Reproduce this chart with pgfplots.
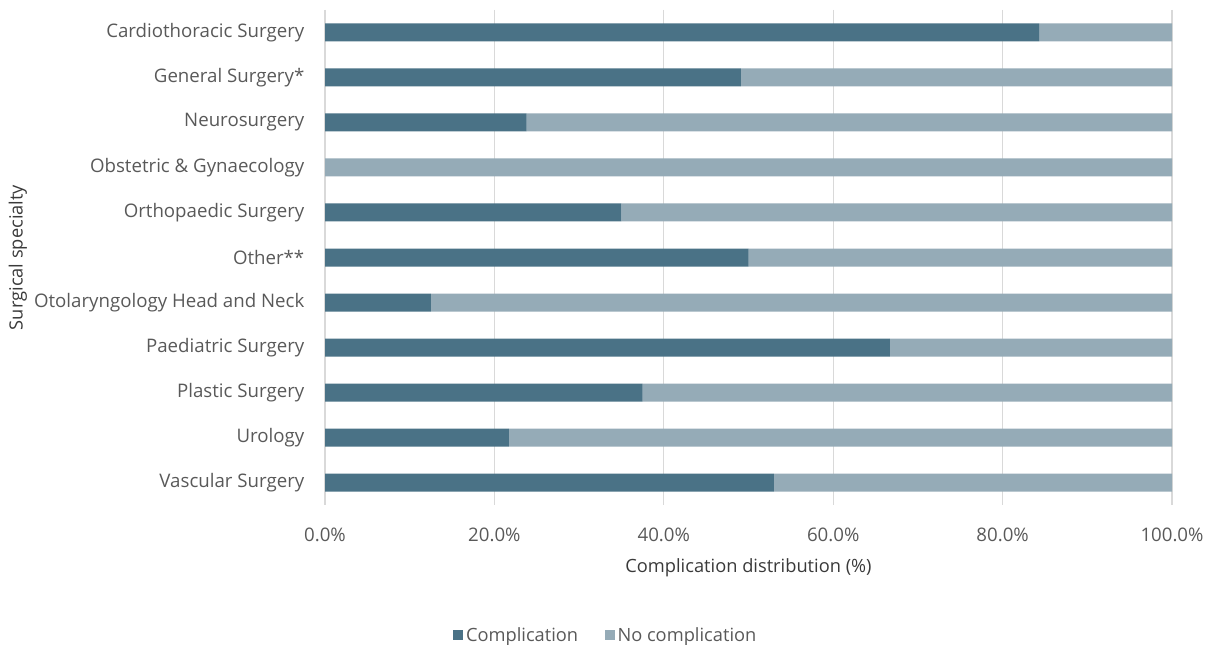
\documentclass[border=0pt]{standalone}
\usepackage{pgfplots}
\pgfplotsset{compat=1.18}
\usepackage{fontspec}
\setmainfont{Open Sans}
\definecolor{comp}{HTML}{4A7286}
\definecolor{nocomp}{HTML}{95ABB7}
\definecolor{txt}{HTML}{595959}
\definecolor{ttl}{HTML}{3A3A3A}
\definecolor{gridc}{HTML}{D9D9D9}
\begin{document}
\begin{tikzpicture}
\useasboundingbox (0pt,0pt) rectangle (909pt,483.75pt);
\begin{axis}[
  at={(243.75pt,105pt)}, anchor=south west,
  scale only axis, width=635.25pt, height=371.25pt,
  xbar stacked, bar width=13.5pt,
  xmin=0, xmax=100, ymin=-0.5, ymax=10.5, y dir=reverse,
  ytick={0,...,10},
  yticklabels={Cardiothoracic Surgery, General Surgery*, Neurosurgery, Obstetric \& Gynaecology, Orthopaedic Surgery, Other**, Otolaryngology Head and Neck, Paediatric Surgery, Plastic Surgery, Urology, Vascular Surgery},
  xtick={0,20,...,100},
  xticklabel={\pgfmathprintnumber[fixed,fixed zerofill,precision=1]{\tick}\%},
  /pgf/number format/assume math mode=true,
  axis line style={draw=none},
  major tick length=0pt,
  xmajorgrids, ymajorgrids=false,
  grid style={gridc, line width=1pt},
  tick label style={font=\fontsize{14}{16}\selectfont, text=txt},
  xticklabel style={yshift=-13.5pt},
  yticklabel style={xshift=-12pt},
  xlabel={Complication distribution (\%)},
  ylabel={Surgical specialty},
  label style={font=\fontsize{13.7}{16}\selectfont, text=ttl},
  xlabel style={at={(axis description cs:0.5,-0.127)}, anchor=center},
  ylabel style={at={(axis description cs:-0.3625,0.5)}, anchor=center},
  legend style={at={(axis description cs:0.332,-0.263)}, anchor=center, draw=none, fill=none,
    legend columns=2, font=\fontsize{13.7}{16}\selectfont, text=txt,
    /tikz/every even column/.append style={column sep=18pt}},
  legend image code/.code={\fill[#1] (0pt,-3.75pt) rectangle (7.5pt,3.75pt);},
]
\addplot[fill=comp, draw=none] coordinates {
(84.3,0) (49.1,1) (23.8,2) (0,3) (35.0,4) (50.0,5) (12.5,6) (66.7,7) (37.5,8) (21.7,9) (53.0,10)};
\addplot[fill=nocomp, draw=none] coordinates {
(15.7,0) (50.9,1) (76.2,2) (100,3) (65.0,4) (50.0,5) (87.5,6) (33.3,7) (62.5,8) (78.3,9) (47.0,10)};
\legend{Complication, No complication}
\end{axis}
\end{tikzpicture}
\end{document}
